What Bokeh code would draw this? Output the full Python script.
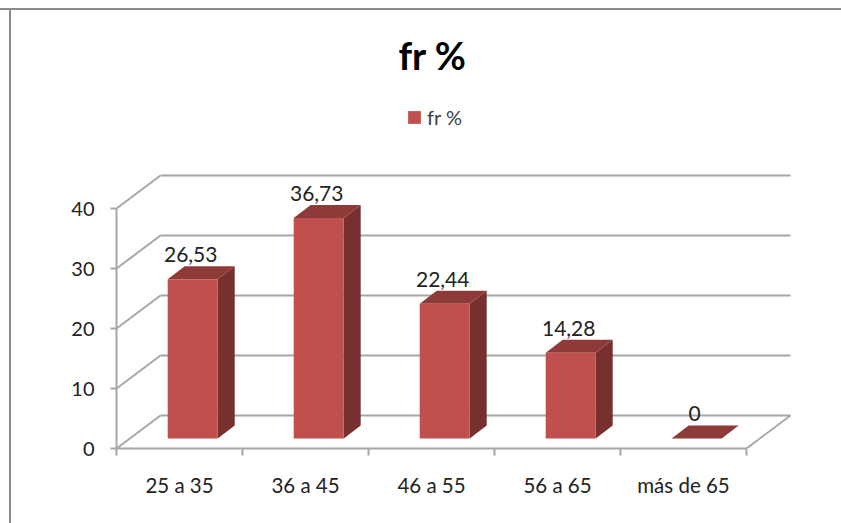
from bokeh.embed import file_html
from bokeh.resources import INLINE
from bokeh.plotting import figure
from bokeh.core.properties import value
from bokeh.models import (Range1d, LinearAxis, FixedTicker, Legend, LegendItem, Title)

categories = ["25 a 35", "36 a 45", "46 a 55", "56 a 65", "más de 65"]
values = [26.53, 36.73, 22.44, 14.28, 0]
value_labels = ["26,53", "36,73", "22,44", "14,28", "0"]
y_ticks = [0, 10, 20, 30, 40]
series_name = "fr %"

FONT = "Lato"
GRID = "#A6A6A6"
FRONT = "#C0504D"
TOP = "#8E3A38"
SIDE = "#78302E"
TEXT = "#222222"
EDGE = "#8C8C8C"

# layout, expressed in axis units (one category = 126px, one y unit = 6px)
W, H = 841, 523
PX_X, PX_Y = 126.0, 6.0
WALL_DX, WALL_DY = 44 / PX_X, 33 / PX_Y
BAR_OFF_X, BAR_OFF_Y = 13.2 / PX_X, 10 / PX_Y
BAR_DX, BAR_DY = 17 / PX_X, 13 / PX_Y
BAR_W = 50 / PX_X
n = len(categories)
F_LEFT, F_RIGHT, F_TOP, F_BOTTOM = 116, 792, 80, 448

p = figure(width=W, height=H, output_backend="svg", toolbar_location=None,
           x_range=Range1d(0, (F_RIGHT - F_LEFT) / PX_X), y_range=Range1d(0, (F_BOTTOM - F_TOP) / PX_Y),
           x_axis_type=None, y_axis_type=None,
           min_border_left=F_LEFT, min_border_right=W - F_RIGHT,
           min_border_top=F_TOP, min_border_bottom=H - F_BOTTOM,
           outline_line_color=None, background_fill_color=None, border_fill_color=None)
p.xgrid.visible = False
p.ygrid.visible = False
# picture frame along the top and left edges of the page
p.styles = {"background":
            f"linear-gradient({EDGE},{EDGE}) 0 8px/100% 2px no-repeat,"
            f"linear-gradient({EDGE},{EDGE}) 9px 8px/2px 100% no-repeat, white"}

# walls and gridlines
p.segment(x0=[WALL_DX] * len(y_ticks), x1=[n + WALL_DX] * len(y_ticks),
          y0=[t + WALL_DY for t in y_ticks], y1=[t + WALL_DY for t in y_ticks],
          line_color=GRID, line_width=2)
p.segment(x0=[0] * len(y_ticks), x1=[WALL_DX] * len(y_ticks),
          y0=y_ticks, y1=[t + WALL_DY for t in y_ticks],
          line_color=GRID, line_width=2)
p.segment(x0=[n], x1=[n + WALL_DX], y0=[0], y1=[WALL_DY], line_color=GRID, line_width=2)

# bars
lefts = [i + 0.5 + BAR_OFF_X - BAR_W / 2 for i in range(n)]
rights = [l + BAR_W for l in lefts]
base = BAR_OFF_Y
side_xs = [[r, r + BAR_DX, r + BAR_DX, r] for r in rights]
side_ys = [[base, base + BAR_DY, base + v + BAR_DY, base + v] for v in values]
top_xs = [[l, l + BAR_DX, r + BAR_DX, r] for l, r in zip(lefts, rights)]
top_ys = [[base + v, base + v + BAR_DY, base + v + BAR_DY, base + v] for v in values]
p.patches(side_xs, side_ys, fill_color=SIDE, line_color=None)
p.patches(top_xs, top_ys, fill_color=TOP, line_color=None)
front = p.quad(left=lefts, right=rights, bottom=[base] * n, top=[base + v for v in values],
               fill_color=FRONT, line_color=None)

# value labels
p.text(x=[(l + r) / 2 - 2 / PX_X for l, r in zip(lefts, rights)],
       y=[base + v + BAR_DY + 0.7 for v in values],
       text=value_labels, text_font=value(FONT), text_font_size="21px",
       text_color=TEXT, text_align="center", text_baseline="bottom")

# axes
yaxis = LinearAxis(ticker=FixedTicker(ticks=y_ticks), bounds=(0, 40),
                   axis_line_color=GRID, axis_line_width=2,
                   major_tick_line_color=GRID, major_tick_line_width=2,
                   major_tick_in=0, major_tick_out=6, minor_tick_line_color=None,
                   major_label_standoff=16, major_label_text_font=FONT,
                   major_label_text_font_size="20px", major_label_text_color=TEXT)
p.add_layout(yaxis, "left")

edges = list(range(n + 1))
xticks = LinearAxis(ticker=FixedTicker(ticks=edges), bounds=(0, n),
                    axis_line_color=GRID, axis_line_width=2,
                    major_tick_line_color=GRID, major_tick_line_width=2,
                    major_tick_in=0, major_tick_out=7, minor_tick_line_color=None,
                    major_label_overrides={e: "" for e in edges}, major_label_standoff=0)
p.add_layout(xticks, "below")

centers = [i + 0.5 for i in range(n)]
xlabels = LinearAxis(ticker=FixedTicker(ticks=centers),
                     major_label_overrides={c: t for c, t in zip(centers, categories)},
                     axis_line_color=None, major_tick_line_color=None, minor_tick_line_color=None,
                     major_label_standoff=11, major_label_text_font=FONT,
                     major_label_text_font_size="20.5px", major_label_text_color=TEXT)
p.add_layout(xlabels, "below")

# title and legend
p.title = Title(text=series_name, align="left", offset=282, standoff=6,
                text_font=FONT, text_font_size="38px", text_font_style="bold", text_color="#000000")
legend = Legend(items=[LegendItem(label=series_name, renderers=[front])],
                location=(290, 319), glyph_width=16, glyph_height=16, label_text_font=FONT,
                label_text_font_size="20px", label_text_color="#404040",
                border_line_color=None, background_fill_color=None, background_fill_alpha=0,
                padding=0, margin=0, label_standoff=5)
p.add_layout(legend, "center")

open("out.html", "w").write(file_html(p, INLINE))
